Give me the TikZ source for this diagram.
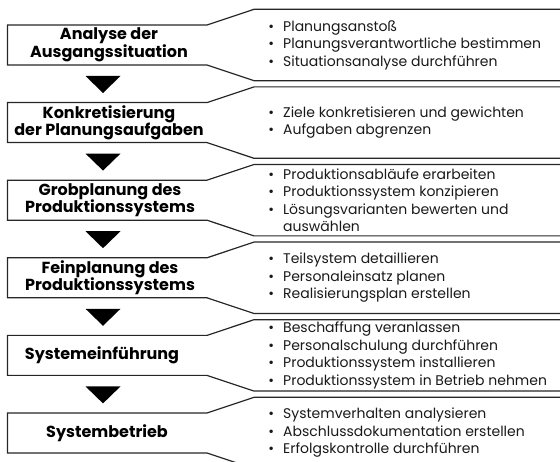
\documentclass[tikz,border=0pt]{standalone}
\usepackage{fontspec}
\setmainfont{Poppins}
\newcommand\bul{\makebox[6pt][c]{\textbullet}\hspace{9pt}}
\newcommand\ind{\hspace*{15pt}}
\begin{document}
\begin{tikzpicture}[x=1pt,y=-1pt,
  outline/.style={draw=black!85, line width=1.2pt, line join=miter},
  stagetitle/.style={font=\bfseries\fontsize{16}{17.5}\selectfont, align=center, inner sep=0pt},
  items/.style={font=\fontsize{14}{17.5}\selectfont, align=left, inner sep=0pt, anchor=west, text=black!90},
  stagearrow/.style={fill=black}]
\useasboundingbox (0,0) rectangle (560,462);
% stage frames: box on the left opening into the task panel on the right
\foreach \t in {25,102.6,180.2,257.8,335.4,413}{
  \draw[outline] (566,\t-15.7) -- (254,\t-15.7) -- (207,\t) -- (7.5,\t)
    -- (7.5,\t+40) -- (207,\t+40) -- (254,\t+55.7) -- (566,\t+55.7);
}
% arrows between consecutive stages
\foreach \t in {25,102.6,180.2,257.8,335.4}{
  \fill[stagearrow] (85.5,\t+51) -- (120.5,\t+51) -- (103,\t+68) -- cycle;
}
% stage titles
\node[stagetitle] (s1) at (109,45) {Analyse der\\Ausgangssituation};
\node[stagetitle] (s2) at (109,122.6) {Konkretisierung\\der Planungsaufgaben};
\node[stagetitle] (s3) at (110,200.2) {Grobplanung des\\Produktionssystems};
\node[stagetitle] (s4) at (110,277.8) {Feinplanung des\\Produktionssystems};
\node[stagetitle] (s5) at (102,355.4) {Systemeinführung};
\node[stagetitle] (s6) at (107,433) {Systembetrieb};
% task lists
\node[items] (l1) at (268,45) {\bul Planungsanstoß\\\bul Planungsverantwortliche bestimmen\\\bul Situationsanalyse durchführen};
\node[items] (l2) at (268,122.6) {\bul Ziele konkretisieren und gewichten\\\bul Aufgaben abgrenzen};
\node[items] (l3) at (268,200.2) {\bul Produktionsabläufe erarbeiten\\\bul Produktionssystem konzipieren\\\bul Lösungsvarianten bewerten und\\\ind auswählen};
\node[items] (l4) at (268,277.8) {\bul Teilsystem detaillieren\\\bul Personaleinsatz planen\\\bul Realisierungsplan erstellen};
\node[items] (l5) at (268,355.4) {\bul Beschaffung veranlassen\\\bul Personalschulung durchführen\\\bul Produktionssystem installieren\\\bul Produktionssystem in Betrieb nehmen};
\node[items] (l6) at (268,433) {\bul Systemverhalten analysieren\\\bul Abschlussdokumentation erstellen\\\bul Erfolgskontrolle durchführen};
\end{tikzpicture}
\end{document}
